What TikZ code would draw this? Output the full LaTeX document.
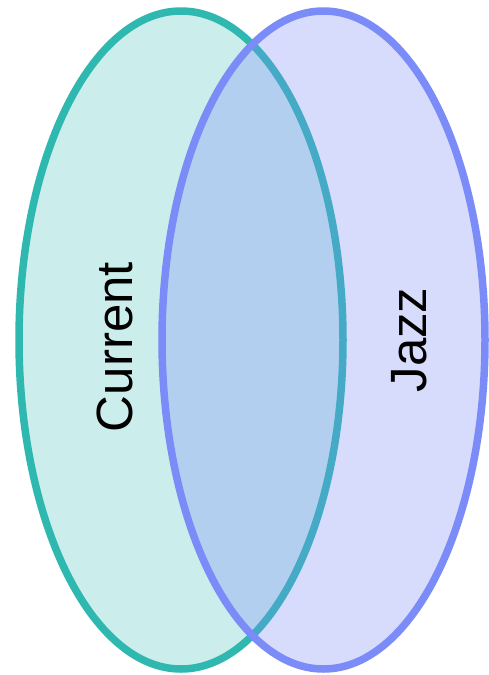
\documentclass[tikz,border=0pt]{standalone}
\usepackage{fontspec}
\setmainfont{Liberation Sans}
\definecolor{tealline}{HTML}{2FB8B0}
\definecolor{blueline}{HTML}{7B8BF8}
\begin{document}
\begin{tikzpicture}[x=1pt,y=-1pt,
  setA/.style={draw=tealline,line width=7.5pt,fill=tealline,fill opacity=0.25,draw opacity=1},
  setB/.style={draw=blueline,line width=7.5pt,fill=blueline,fill opacity=0.3,draw opacity=1},
  setlabel/.style={font=\fontsize{51}{51}\selectfont,text=black,inner sep=0pt,rotate=90,anchor=center}]
\useasboundingbox (0,0) rectangle (489,675);
\path[setA] (181,340) ellipse [x radius=162, y radius=329];
\path[setB] (323.5,340) ellipse [x radius=161.5, y radius=329];
\node[setlabel] (current) at (115,347) {Current};
\node[setlabel] (jazz) at (409,340) {Jazz};
\end{tikzpicture}
\end{document}
